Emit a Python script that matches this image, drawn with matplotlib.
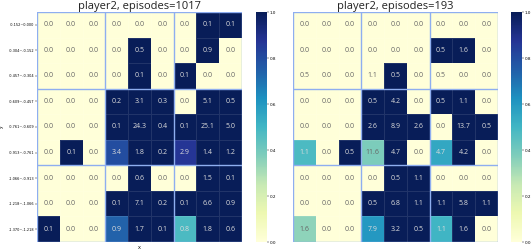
import numpy as np
import matplotlib.pyplot as plt

plt.rcParams['font.family'] = ['Open Sans', 'DejaVu Sans']

# y bin labels (top row first)
y_labels = ["-0.152~0.000", "-0.304~-0.152", "-0.457~-0.304", "-0.609~-0.457",
            "-0.761~-0.609", "-0.913~-0.761", "-1.066~-0.913", "-1.218~-1.066",
            "-1.370~-1.218"]

# annotated numbers, left panel
annot_a = [
    [0.0, 0.0, 0.0, 0.0, 0.0, 0.0, 0.0, 0.1, 0.1],
    [0.0, 0.0, 0.0, 0.0, 0.5, 0.0, 0.0, 0.9, 0.0],
    [0.0, 0.0, 0.0, 0.0, 0.1, 0.0, 0.1, 0.0, 0.0],
    [0.0, 0.0, 0.0, 0.2, 3.1, 0.3, 0.0, 5.1, 0.5],
    [0.0, 0.0, 0.0, 0.1, 24.3, 0.4, 0.1, 25.1, 5.0],
    [0.0, 0.1, 0.0, 3.4, 1.8, 0.2, 2.9, 1.4, 1.2],
    [0.0, 0.0, 0.0, 0.0, 0.6, 0.0, 0.0, 1.5, 0.1],
    [0.0, 0.0, 0.0, 0.1, 7.1, 0.2, 0.1, 6.6, 0.9],
    [0.1, 0.0, 0.0, 0.9, 1.7, 0.1, 0.8, 1.8, 0.6],
]
# colour values, left panel
color_a = [
    [0, 0, 0, 0, 0, 0, 0, 1, 1],
    [0, 0, 0, 0, 1, 0, 0, 1, 0],
    [0, 0, 0, 0, 1, 0, 1, 0, 0],
    [0, 0, 0, 1, 1, 1, 0, 1, 1],
    [0, 0, 0, 1, 1, 1, 1, 1, 1],
    [0, 1, 0, 0.8, 1, 1, 0.87, 1, 1],
    [0, 0, 0, 0, 1, 0, 0, 1, 1],
    [0, 0, 0, 1, 1, 1, 1, 1, 1],
    [1, 0, 0, 0.74, 1, 1, 0.48, 1, 1],
]

# annotated numbers, right panel
annot_b = [
    [0.0, 0.0, 0.0, 0.0, 0.0, 0.0, 0.0, 0.0, 0.0],
    [0.0, 0.0, 0.0, 0.0, 0.0, 0.0, 0.5, 1.6, 0.0],
    [0.5, 0.0, 0.0, 1.1, 0.5, 0.0, 0.5, 0.0, 0.0],
    [0.0, 0.0, 0.0, 0.5, 4.2, 0.0, 0.5, 1.1, 0.0],
    [0.0, 0.0, 0.0, 2.6, 8.9, 2.6, 0.0, 13.7, 0.5],
    [1.1, 0.0, 0.5, 11.6, 4.7, 0.0, 4.7, 4.2, 0.0],
    [0.0, 0.0, 0.0, 0.0, 0.5, 1.1, 0.0, 0.0, 0.0],
    [0.0, 0.0, 0.0, 0.5, 6.8, 1.1, 1.1, 5.8, 1.1],
    [1.6, 0.0, 0.0, 7.9, 3.2, 0.5, 1.1, 1.6, 0.0],
]
# colour values, right panel
color_b = [
    [0, 0, 0, 0, 0, 0, 0, 0, 0],
    [0, 0, 0, 0, 0, 0, 1, 1, 0],
    [0, 0, 0, 0, 1, 0, 0, 0, 0],
    [0, 0, 0, 1, 1, 0, 1, 1, 0],
    [0, 0, 0, 1, 1, 1, 0, 1, 1],
    [0.48, 0, 1, 0.38, 1, 0, 0.55, 1, 0],
    [0, 0, 0, 0, 1, 1, 0, 0, 0],
    [0, 0, 0, 1, 1, 1, 1, 1, 1],
    [0.35, 0, 0, 0.6, 1, 1, 0.5, 1, 0],
]

titles = ["player2, episodes=1017", "player2, episodes=193"]

W, H = 532, 252
fig = plt.figure(figsize=(W / 100, H / 100), dpi=100)


def px(x0, y0, w, h):
    # pixel box (top-left origin) -> figure fraction
    return [x0 / W, 1 - (y0 + h) / H, w / W, h / H]


block_color = '#8eaef0'
cmap = plt.get_cmap('YlGnBu')


def draw_panel(ax, cax, annot, colors, title, labels):
    c = np.array(colors, dtype=float)
    a = np.array(annot)
    n_rows, n_cols = c.shape
    mesh = ax.pcolormesh(c, cmap=cmap, vmin=0, vmax=1,
                         edgecolors=(1, 1, 1, 0.1), linewidth=0.4)
    ax.set_xlim(0, n_cols)
    ax.set_ylim(n_rows, 0)
    for i in range(n_rows):
        for j in range(n_cols):
            txt_color = '#dcdcdc' if c[i, j] > 0.45 else '#666666'
            ax.text(j + 0.5, i + 0.5, f"{a[i, j]:.1f}", ha='center', va='center',
                    fontsize=5, color=txt_color)
    for k in range(0, n_cols + 1, 3):
        ax.axvline(k, color=block_color, lw=1.0)
    for k in range(0, n_rows + 1, 3):
        ax.axhline(k, color=block_color, lw=1.0)
    for s in ax.spines.values():
        s.set_visible(False)
    ax.set_xticks([])
    if labels:
        ax.set_yticks(np.arange(n_rows) + 0.5)
        ax.set_yticklabels(y_labels, fontsize=2.5, family='DejaVu Sans')
        ax.tick_params(axis='y', length=1.5, width=0.3, pad=0.5)
        ax.set_ylabel('y', fontsize=4)
        ax.yaxis.set_label_coords(-0.16, 0.5)
        ax.set_xlabel('x', fontsize=4, labelpad=2)
    else:
        ax.set_yticks([])
    ax.set_title(title, fontsize=8, pad=1.5, color='#222222')

    cb = fig.colorbar(mesh, cax=cax)
    cb.outline.set_visible(False)
    cb.set_ticks([0.0, 0.2, 0.4, 0.6, 0.8, 1.0])
    cb.ax.tick_params(labelsize=3, length=1.5, width=0.3, pad=0.5)
    for t in cb.ax.get_yticklabels():
        t.set_family('DejaVu Sans')


ax1 = fig.add_axes(px(37, 12, 205, 230))
cax1 = fig.add_axes(px(256, 12, 11, 230))
ax2 = fig.add_axes(px(293, 12, 205, 230))
cax2 = fig.add_axes(px(511, 12, 11, 230))

draw_panel(ax1, cax1, annot_a, color_a, titles[0], True)
draw_panel(ax2, cax2, annot_b, color_b, titles[1], False)

fig.savefig('out.png', dpi=100)
